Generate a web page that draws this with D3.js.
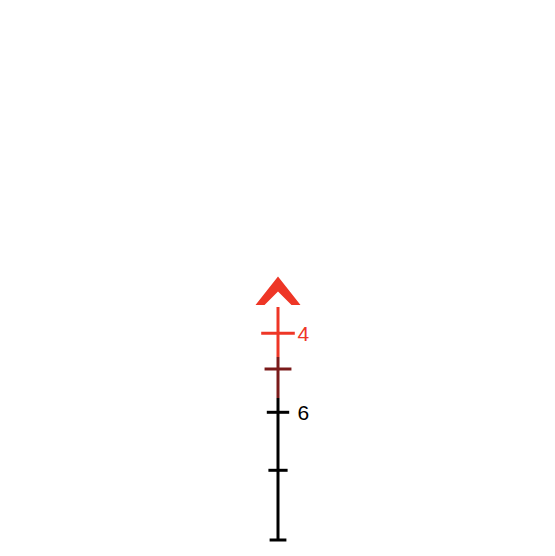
<!DOCTYPE html>
<html>
<head>
<meta charset="utf-8">
<script src="https://cdn.jsdelivr.net/npm/d3@7"></script>
<style>
  html, body { margin: 0; padding: 0; background: #fff; }
  svg { display: block; }
</style>
</head>
<body>
<div id="chart"></div>
<script>
// Range marks (hundreds of metres) and holdover below the aiming tip (arbitrary units)
const ranges   = [4, 5, 6, 7, 8];
const holdover = [5.68, 9.25, 13.58, 19.38, 26.35];
const labels   = ["4", "", "6", "", ""];
const tickGroup = [0, 1, 2, 2, 2];          // colour group of each tick
// Post segments (holdover from..to) and their colour groups
const segFrom  = [3.05, 8.05, 12.15];
const segTo    = [8.05, 12.15, 26.35];
const segGroup = [0, 1, 2];
// Chevron aim point (300 m) holdover
const chevronRange = 3;
const chevronHold  = 0;

const colors = ["#ee3626", "#7a1a1a", "#000000"];

const W = 555, H = 556;
const svg = d3.select("#chart").append("svg")
  .attr("width", W).attr("height", H);

const cx = 278;
const y = d3.scaleLinear().domain([0, 26.35]).range([276.5, 540]);
// tick half-width ~ angular size of target at range
const w = d3.scaleLinear().domain([0, 1 / 4]).range([0, 16.8]);

// post segments
svg.selectAll("line.seg")
  .data(segFrom.map((f, i) => ({ f, t: segTo[i], g: segGroup[i] })))
  .join("line")
  .attr("class", "seg")
  .attr("x1", cx).attr("x2", cx)
  .attr("y1", d => y(d.f)).attr("y2", d => y(d.t))
  .attr("stroke", d => colors[d.g])
  .attr("stroke-width", 3);

// ticks
const ticks = ranges.map((r, i) => ({ r, h: holdover[i], label: labels[i], g: tickGroup[i] }));
svg.selectAll("line.tick")
  .data(ticks)
  .join("line")
  .attr("class", "tick")
  .attr("x1", d => cx - w(1 / d.r)).attr("x2", d => cx + w(1 / d.r))
  .attr("y1", d => y(d.h)).attr("y2", d => y(d.h))
  .attr("stroke", d => colors[d.g])
  .attr("stroke-width", 3);

// labels
svg.selectAll("text.lbl")
  .data(ticks.filter(d => d.label))
  .join("text")
  .attr("class", "lbl")
  .attr("x", cx + 19.5)
  .attr("y", d => y(d.h))
  .attr("dy", "0.37em")
  .attr("font-family", "Liberation Sans, Arial, Helvetica, sans-serif")
  .attr("font-size", 21)
  .attr("fill", d => colors[d.g])
  .text(d => d.label);

// chevron
const ty = y(chevronHold);
const outerH = 28.5, innerH = 15, halfW = 22.5, innerW = 13.5;
svg.append("path")
  .attr("d", d3.line()([
    [cx, ty],
    [cx + halfW, ty + outerH],
    [cx + innerW, ty + outerH],
    [cx, ty + innerH],
    [cx - innerW, ty + outerH],
    [cx - halfW, ty + outerH]
  ]) + "Z")
  .attr("fill", colors[0]);
</script>
</body>
</html>
